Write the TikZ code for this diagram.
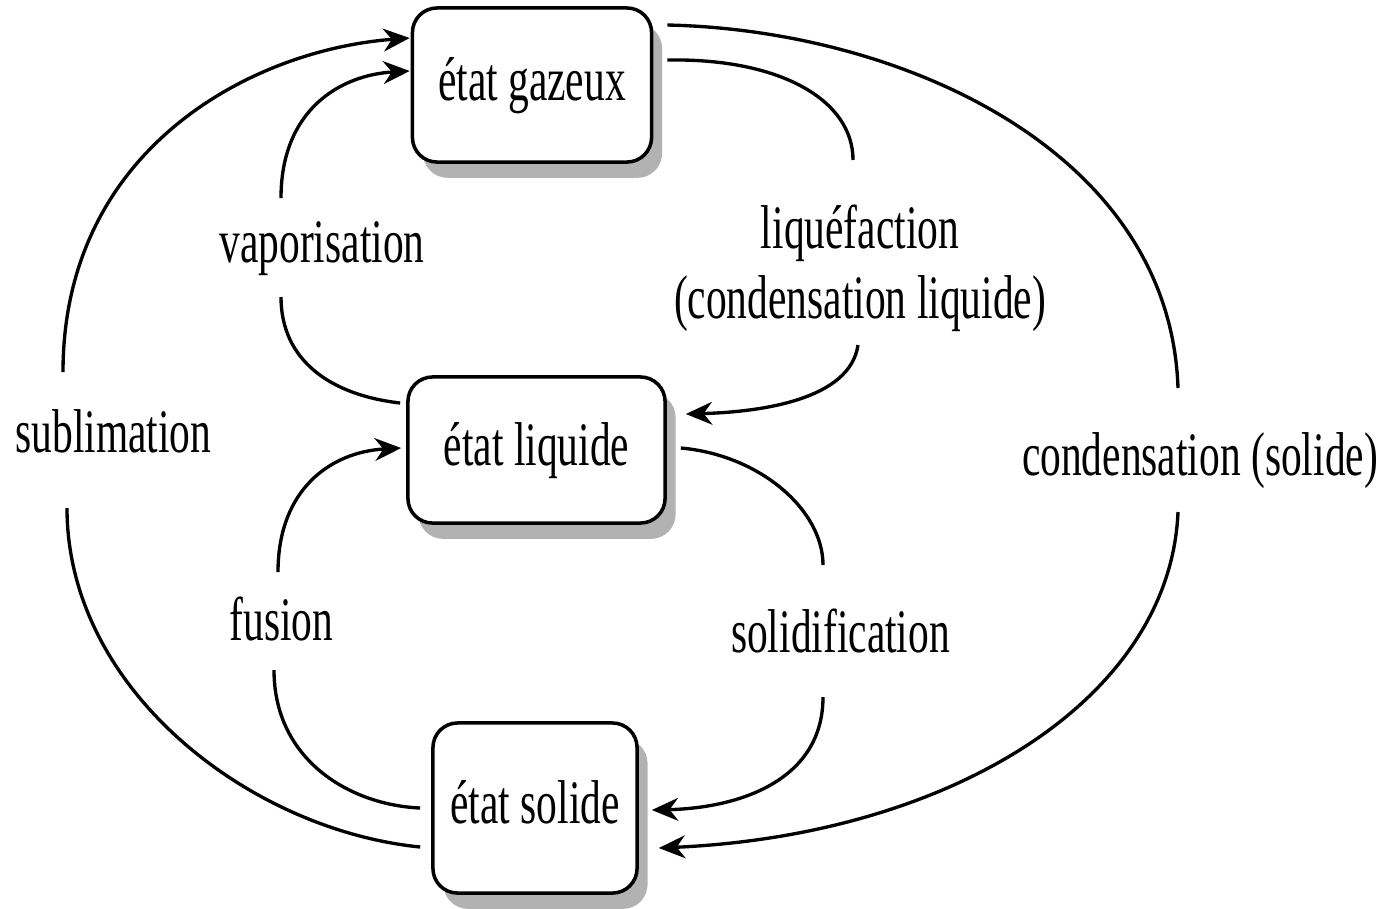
\documentclass[tikz,border=0pt]{standalone}
\usepackage{fontspec}
\setmainfont{Liberation Serif}[FakeStretch=0.67]
\usetikzlibrary{arrows.meta,shadows}
\begin{document}
\begin{tikzpicture}[x=0.01cm,y=-0.01cm,
  every node/.style={font=\fontsize{17.6}{19.9}\selectfont},
  etat/.style={draw, line width=1pt, rounded corners=7pt, fill=white,
    text height=13pt, text depth=4.3pt, inner sep=0pt,
    drop shadow={shadow xshift=3pt, shadow yshift=-4.5pt, fill=black!30, opacity=1}},
  lbl/.style={anchor=base, inner sep=0pt, align=center},
  conn/.style={line width=0.95pt},
  arr/.style={conn, -{Stealth[length=7.5pt,width=6.5pt]}}
]
\useasboundingbox (0,0) rectangle (1385,908);

% states
\node[etat, minimum width=2.39cm, minimum height=1.54cm] (gaz) at (532,85) {état gazeux};
\node[etat, minimum width=2.57cm, minimum height=1.46cm] (liq) at (536.5,450) {état liquide};
\node[etat, minimum width=2.04cm, minimum height=1.70cm] (sol) at (535,808) {état solide};

% labels
\node[lbl] (vap) at (322,262) {vaporisation};
\node[lbl] (sub) at (113.5,452) {sublimation};
\node[lbl] (cond) at (1200,475) {condensation (solide)};
\node[lbl] (fus) at (281.5,640) {fusion};
\node[lbl] (soli) at (840.5,652) {solidification};
\node[inner sep=0pt, align=center] (liqf) at (860,268) {liquéfaction\\(condensation liquide)};

% free ends of the connectors beside the labels
\coordinate (subT) at (63,372);   \coordinate (subB) at (67,508);
\coordinate (vapT) at (281,198);  \coordinate (vapB) at (281,297);
\coordinate (liqfT) at (853,160); \coordinate (liqfB) at (858,345);
\coordinate (condT) at (1178,388);\coordinate (condB) at (1178,512);
\coordinate (fusT) at (278,572);  \coordinate (fusB) at (274,670);
\coordinate (soliT) at (823,565); \coordinate (soliB) at (823,697);

% sublimation
\draw[conn] ([shift={(-11,39)}]sol.west) .. controls (250,830) and (67,690) .. (subB);
\draw[arr] (subT) .. controls (63,150) and (250,50) .. ([shift={(-1,-47)}]gaz.west);
% vaporisation
\draw[conn] ([shift={(-6,-47)}]liq.west) .. controls (330,395) and (281,360) .. (vapB);
\draw[arr] (vapT) .. controls (281,110) and (340,75) .. ([shift={(-1,-14)}]gaz.west);
% liquefaction
\draw[conn] ([shift={(14,-25)}]gaz.east) .. controls (780,58) and (853,100) .. (liqfT);
\draw[arr] (liqfB) .. controls (850,400) and (760,412) .. ([shift={(19,-36)}]liq.east);
% condensation (solide)
\draw[conn] ([shift={(14,-60)}]gaz.east) .. controls (900,30) and (1170,150) .. (condT);
\draw[arr] (condB) .. controls (1170,700) and (950,835) .. ([shift={(20,40)}]sol.east);
% fusion
\draw[conn] ([shift={(-11,0)}]sol.west) .. controls (350,805) and (274,760) .. (fusB);
\draw[arr] (fusT) .. controls (278,490) and (330,452) .. ([shift={(-5,-2)}]liq.west);
% solidification
\draw[conn] ([shift={(14,-2)}]liq.east) .. controls (760,455) and (823,510) .. (soliT);
\draw[arr] (soliB) .. controls (823,780) and (740,808) .. ([shift={(13,2)}]sol.east);
\end{tikzpicture}
\end{document}
